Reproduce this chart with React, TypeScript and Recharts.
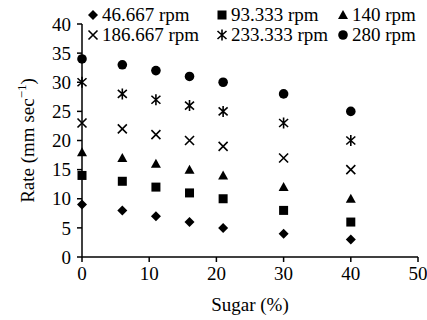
import React from 'react';
import { ScatterChart, Scatter, XAxis, YAxis, Legend, Label } from 'recharts';

const sugar = [0, 6, 11, 16, 21, 30, 40];
const rpm46 = [9, 8, 7, 6, 5, 4, 3];
const rpm93 = [14, 13, 12, 11, 10, 8, 6];
const rpm140 = [18, 17, 16, 15, 14, 12, 10];
const rpm186 = [23, 22, 21, 20, 19, 17, 15];
const rpm233 = [30, 28, 27, 26, 25, 23, 20];
const rpm280 = [34, 33, 32, 31, 30, 28, 25];
const seriesNames = ['46.667 rpm', '93.333 rpm', '140 rpm', '186.667 rpm', '233.333 rpm', '280 rpm'];
const xTicks = [0, 10, 20, 30, 40, 50];
const yTicks = [0, 5, 10, 15, 20, 25, 30, 35, 40];

const FONT = '"Liberation Serif", "Times New Roman", serif';
const FS = 19;

const toData = (vals: number[]) => sugar.map((x, i) => ({ x, y: vals[i] }));

const drawSymbol = (kind: number, cx: number, cy: number) => {
  switch (kind) {
    case 0:
      return <path d={`M${cx},${cy - 5}L${cx + 5},${cy}L${cx},${cy + 5}L${cx - 5},${cy}Z`} fill="#000" />;
    case 1:
      return <rect x={cx - 4.5} y={cy - 4.5} width={9} height={9} fill="#000" />;
    case 2:
      return <path d={`M${cx},${cy - 5}L${cx + 5},${cy + 4}L${cx - 5},${cy + 4}Z`} fill="#000" />;
    case 3:
      return (
        <path d={`M${cx - 4.5},${cy - 4.5}L${cx + 4.5},${cy + 4.5}M${cx + 4.5},${cy - 4.5}L${cx - 4.5},${cy + 4.5}`} stroke="#000" strokeWidth={1.6} fill="none" />
      );
    case 4:
      return (
        <path d={`M${cx},${cy - 5.5}L${cx},${cy + 5.5}M${cx - 4.5},${cy - 4}L${cx + 4.5},${cy + 4}M${cx + 4.5},${cy - 4}L${cx - 4.5},${cy + 4}`} stroke="#000" strokeWidth={1.6} fill="none" />
      );
    default:
      return <circle cx={cx} cy={cy} r={4.8} fill="#000" />;
  }
};

const makeShape = (kind: number) => (props: any) => {
  const { cx, cy } = props;
  if (cx == null || cy == null) return <g />;
  return <g>{drawSymbol(kind, cx, cy)}</g>;
};

const allSeries = [rpm46, rpm93, rpm140, rpm186, rpm233, rpm280];

const legendCols = [93, 222, 343];
const legendRows = [15, 35];

const LegendContent = () => (
  <svg width={427} height={50} style={{ display: 'block', overflow: 'visible' }}>
    {seriesNames.map((name, i) => {
      const cx = legendCols[i % 3];
      const cy = legendRows[Math.floor(i / 3)];
      return (
        <g key={name}>
          {drawSymbol(i, cx, cy)}
          <text x={cx + 9} y={cy} dy={6} fontFamily={FONT} fontSize={FS} fill="#000">
            {name}
          </text>
        </g>
      );
    })}
  </svg>
);

const YLabel = (props: any) => {
  const vb = props.viewBox || { x: 0, y: 24, width: 82, height: 233 };
  const cx = vb.x + 27;
  const cy = vb.y + vb.height / 2;
  return (
    <text x={cx} y={cy} transform={`rotate(-90 ${cx} ${cy})`} textAnchor="middle" dy={7} fontFamily={FONT} fontSize={FS} fill="#000">
      Rate (mm sec
      <tspan dy={-8} fontSize={13}>−1</tspan>
      <tspan dy={8}>)</tspan>
    </text>
  );
};

export default function App() {
  return (
    <div style={{ position: 'absolute', left: 0, top: 0 }}>
      <ScatterChart width={427} height={320} margin={{ top: 24, right: 9, bottom: 0, left: 0 }}>
        <XAxis
          type="number"
          dataKey="x"
          domain={[0, 50]}
          ticks={xTicks}
          height={63}
          stroke="#000"
          strokeWidth={1.5}
          tickSize={5}
          tickMargin={5}
          tick={{ fill: '#000', fontFamily: FONT, fontSize: FS }}
          tickLine={{ stroke: '#000', strokeWidth: 1.5 }}
          interval={0}
        >
          <Label value="Sugar (%)" position="insideBottom" offset={9} fill="#000" fontFamily={FONT} fontSize={FS} />
        </XAxis>
        <YAxis
          type="number"
          dataKey="y"
          domain={[0, 40]}
          ticks={yTicks}
          width={82}
          stroke="#000"
          strokeWidth={1.5}
          tickSize={5}
          tickMargin={6}
          tick={{ fill: '#000', fontFamily: FONT, fontSize: FS }}
          tickLine={{ stroke: '#000', strokeWidth: 1.5 }}
          interval={0}
        >
          <Label content={YLabel} />
        </YAxis>
        <Legend
          content={LegendContent}
          layout="horizontal"
          verticalAlign="middle"
          align="center"
          wrapperStyle={{ position: 'absolute', left: 0, top: 0, width: 427, height: 50 }}
        />
        {allSeries.map((vals, i) => (
          <Scatter
            key={seriesNames[i]}
            name={seriesNames[i]}
            data={toData(vals)}
            fill="#000"
            shape={makeShape(i)}
            isAnimationActive={false}
          />
        ))}
      </ScatterChart>
    </div>
  );
}
